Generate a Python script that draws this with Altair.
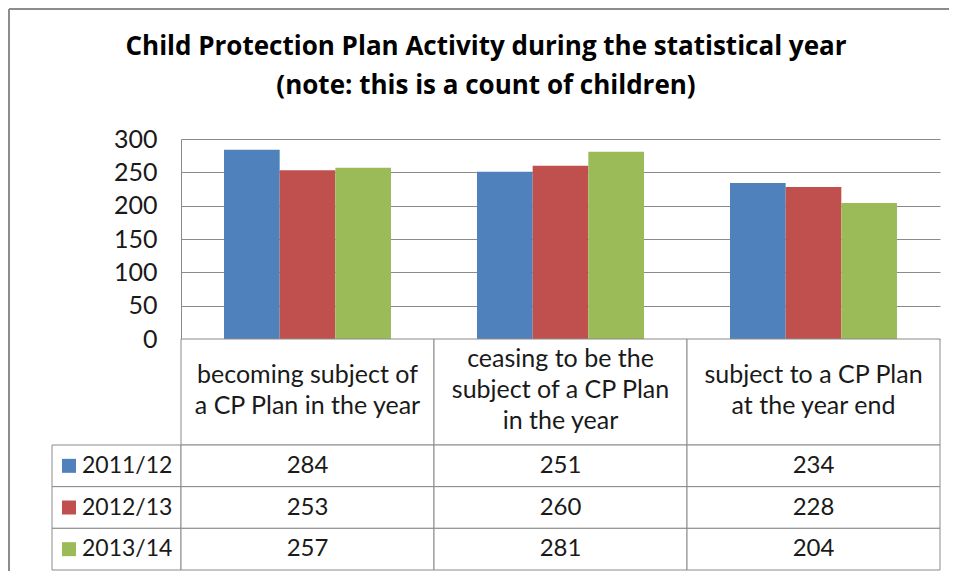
import altair as alt
import pandas as pd

categories = [
    "becoming subject of a CP Plan in the year",
    "ceasing to be the subject of a CP Plan in the year",
    "subject to a CP Plan at the year end",
]
header_labels = [
    "becoming subject of\na CP Plan in the year",
    "ceasing to be the\nsubject of a CP Plan\nin the year",
    "subject to a CP Plan\nat the year end",
]
series = ["2011/12", "2012/13", "2013/14"]
values = {
    "2011/12": [284, 251, 234],
    "2012/13": [253, 260, 228],
    "2013/14": [257, 281, 204],
}
colors = ["#4F81BD", "#C0504D", "#9BBB59"]
y_ticks = [0, 50, 100, 150, 200, 250, 300]
title_lines = [
    "Child Protection Plan Activity during the statistical year",
    "(note: this is a count of children)",
]

rows = []
for s in series:
    for c, v in zip(categories, values[s]):
        rows.append({"category": c, "series": s, "value": v})
df = pd.DataFrame(rows)

LH = 31
hrows = []
for c, lab in zip(categories, header_labels):
    parts = lab.split("\n")
    n = len(parts)
    for i, p in enumerate(parts):
        hrows.append({"category": c, "line": p, "off": (i - (n - 1) / 2) * LH})
hdf = pd.DataFrame(hrows)
hdr = pd.DataFrame({"category": categories})
leg = pd.DataFrame({"series": series})
tdf = pd.DataFrame({"line": title_lines, "idx": list(range(len(title_lines)))})
one = pd.DataFrame({"k": [0]})

FONT = "Lato"
TFONT = "Open Sans"
GRID = "#8a8a8a"
FRAME = "#8c8c8c"
TXT = "#1a1a1a"
W = 759
H_BAR = 200
H_HDR = 106
H_TAB = 125

xcat = alt.X("category:N", sort=categories, title=None,
             scale=alt.Scale(domain=categories, paddingInner=0.34, paddingOuter=0.17),
             axis=alt.Axis(labels=False, ticks=False, domain=True, domainColor=GRID, grid=False))
color = alt.Color("series:N", scale=alt.Scale(domain=series, range=colors), legend=None)

bars = alt.Chart(df).mark_bar().encode(
    x=xcat,
    xOffset=alt.XOffset("series:N", sort=series, scale=alt.Scale(domain=series, paddingInner=0, paddingOuter=0)),
    y=alt.Y("value:Q", title=None,
            scale=alt.Scale(domain=[0, 300], nice=False),
            axis=alt.Axis(values=y_ticks, ticks=False, labelPadding=24, labelFontSize=25,
                          labelFont=FONT, labelColor=TXT, gridColor=GRID, domainColor=GRID,
                          labelFlush=False)),
    color=color,
)

# chart-area frame (decoration, like the spreadsheet chart border)
frame_top = alt.Chart(one).mark_rule(color=FRAME, strokeWidth=2).encode(
    x=alt.value(-172), x2=alt.value(W + 9), y=alt.value(-130)
)
frame_left = alt.Chart(one).mark_rule(color=FRAME, strokeWidth=2).encode(
    x=alt.value(-172), y=alt.value(-130), y2=alt.value(H_BAR + H_HDR + H_TAB + 1)
)
title = alt.Chart(tdf).mark_text(font=TFONT, fontSize=26, fontWeight="bold", color="black",
                                 baseline="middle", align="center").encode(
    x=alt.value(305),
    y=alt.Y("idx:Q", scale=alt.Scale(domain=[0, 1], range=[-92, -53]), axis=None),
    text="line:N",
)
top = alt.layer(bars, frame_top, frame_left, title).resolve_scale(y="independent").properties(
    width=W, height=H_BAR)

xtab = alt.X("category:N", sort=categories, title=None,
             scale=alt.Scale(domain=categories, paddingInner=0, paddingOuter=0),
             axis=None)

header_cells = alt.Chart(hdr).mark_rect(fill="white", stroke=GRID, strokeWidth=1).encode(
    x=xtab, y=alt.value(0), y2=alt.value(H_HDR)
)
header_text = alt.Chart(hdf).mark_text(font=FONT, fontSize=25, color=TXT, baseline="middle").encode(
    x=xtab,
    y=alt.Y("off:Q", scale=alt.Scale(domain=[H_HDR / 2 + 2, -H_HDR / 2 + 2]), axis=None),
    text="line:N",
)
header = alt.layer(header_cells, header_text).properties(width=W, height=H_HDR)

ytab = alt.Y("series:N", sort=series, title=None,
             scale=alt.Scale(domain=series, paddingInner=0, paddingOuter=0), axis=None)

cells = alt.Chart(df).mark_rect(fill="white", stroke=GRID, strokeWidth=1).encode(x=xtab, y=ytab)
cell_text = alt.Chart(df).mark_text(font=FONT, fontSize=24, color=TXT, baseline="middle").encode(
    x=xtab, y=ytab, text="value:Q"
)
leg_cells = alt.Chart(leg).mark_rect(fill="white", stroke=GRID, strokeWidth=1).encode(
    x=alt.value(-129), x2=alt.value(0), y=ytab
)
leg_sq = alt.Chart(leg).mark_square(size=196, opacity=1).encode(
    x=alt.value(-112), y=ytab, color=color
)
leg_text = alt.Chart(leg).mark_text(font=FONT, fontSize=23, color=TXT, align="left",
                                    baseline="middle").encode(
    x=alt.value(-99), y=ytab, text="series:N"
)
table = alt.layer(leg_cells, cells, leg_sq, leg_text, cell_text).properties(width=W, height=H_TAB)

chart = alt.vconcat(top, header, table, spacing=0, bounds="flush").resolve_scale(
    x="independent", y="independent"
).properties(
    padding={"left": 0, "top": 0, "right": 0, "bottom": 0},
).configure_view(stroke=None)

chart.save("out.html", embed_options={"renderer": "svg", "actions": False})
